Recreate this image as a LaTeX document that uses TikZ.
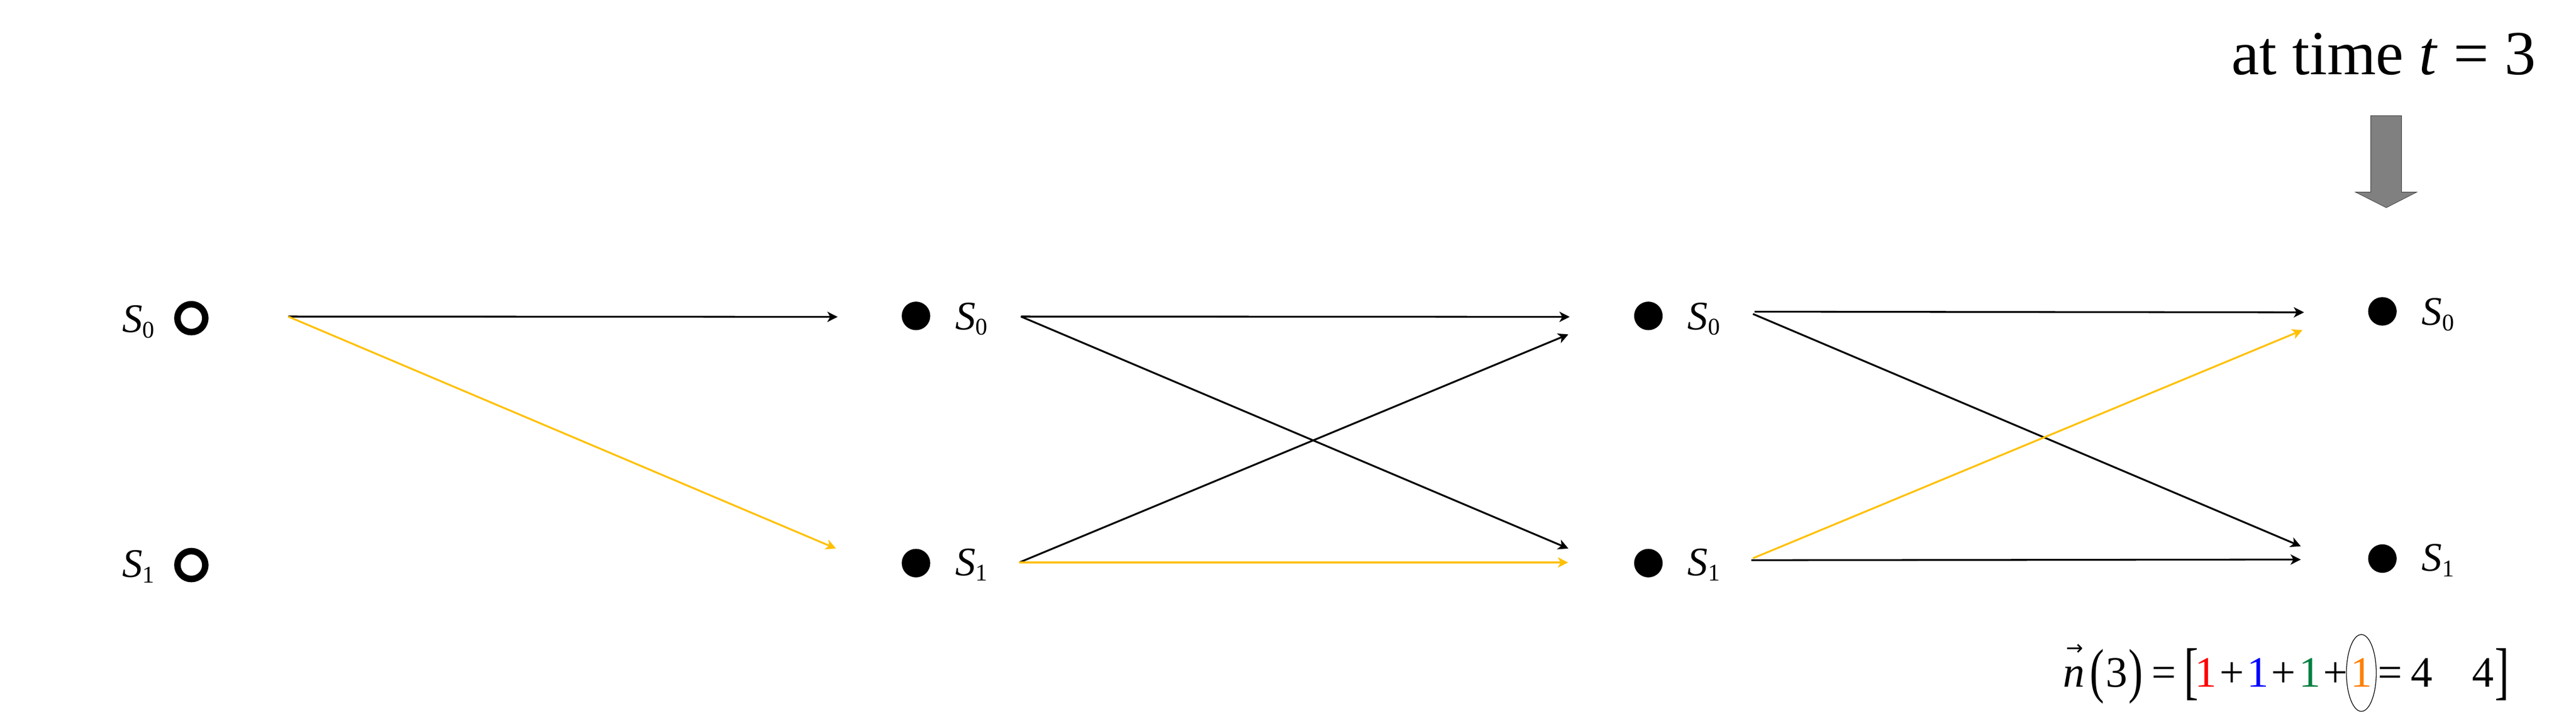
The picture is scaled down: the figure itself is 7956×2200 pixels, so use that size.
\documentclass[tikz,border=0pt]{standalone}
\usepackage{fontspec}
\setmainfont{Liberation Serif}
\newfontfamily\arrowfont{DejaVu Sans}
\usepackage{graphicx}
\usetikzlibrary{arrows.meta,shapes.geometric,calc}
\definecolor{gold}{HTML}{FFC000}
\definecolor{eqred}{HTML}{FF0000}
\definecolor{eqblue}{HTML}{0000FF}
\definecolor{eqgreen}{HTML}{00803F}
\definecolor{eqorange}{HTML}{FF8000}
\definecolor{blockgray}{HTML}{808080}
\definecolor{blockedge}{HTML}{404040}
\newcommand\lblfont{\fontsize{35.6pt}{40pt}\selectfont}
\newcommand\subfont{\fontsize{21pt}{24pt}\selectfont}
\newcommand\eqfont{\fontsize{38.1pt}{44pt}\selectfont}
\newcommand\titlefont{\fontsize{55pt}{62pt}\selectfont}
\newcommand\stlab[1]{\textit{S}\raisebox{-0.17cm}{\subfont #1}}
\newcommand\eqglyph[1]{\makebox[0pt]{#1}}
\begin{document}
\begin{tikzpicture}[x=0.01cm,y=-0.01cm,
  opendot/.style={circle,draw=black,line width=0.2cm,minimum size=0.86cm,inner sep=0pt},
  fulldot/.style={circle,fill=black,minimum size=0.88cm,inner sep=0pt},
  lblW/.style={anchor=base west,inner sep=0pt,font=\lblfont},
  lblE/.style={anchor=base east,inner sep=0pt,font=\lblfont},
  conn/.style={line width=1.6pt,-{Stealth[length=9pt,width=9pt,inset=2.5pt]}},
  eqstyle/.style={anchor=base west,inner sep=0pt,font=\eqfont}
]
\path[use as bounding box] (0,0) rectangle (7956,2200);

% states
\node[opendot] (c1a) at (591,982) {};
\node[opendot] (c1b) at (591,1744) {};
\node[fulldot] (d2a) at (2829,975) {};
\node[fulldot] (d2b) at (2829,1738) {};
\node[fulldot] (d3a) at (5091,975) {};
\node[fulldot] (d3b) at (5091,1738) {};
\node[fulldot] (d4a) at (7358,961) {};
\node[fulldot] (d4b) at (7358,1724) {};

% labels
\node[lblE] (l1a) at ($(c1a)+(-113,44)$) {\stlab{0}};
\node[lblE] (l1b) at ($(c1b)+(-113,38)$) {\stlab{1}};
\node[lblW] (l2a) at ($(d2a)+(121,42)$) {\stlab{0}};
\node[lblW] (l2b) at ($(d2b)+(121,38)$) {\stlab{1}};
\node[lblW] (l3a) at ($(d3a)+(121,42)$) {\stlab{0}};
\node[lblW] (l3b) at ($(d3b)+(121,38)$) {\stlab{1}};
\node[lblW] (l4a) at ($(d4a)+(121,42)$) {\stlab{0}};
\node[lblW] (l4b) at ($(d4b)+(121,38)$) {\stlab{1}};

% connector end points
\coordinate (o1) at (890,977);
\coordinate (i2a) at (2587,978);
\coordinate (i2b) at (2582,1693);
\coordinate (o2a) at (3153,977);
\coordinate (o2b) at (3148,1736);
\coordinate (i3aa) at (4848,978);
\coordinate (i3ab) at (4844,1032);
\coordinate (i3ba) at (4844,1693);
\coordinate (i3bb) at (4843,1736);
\coordinate (o3ah) at (5419,962);
\coordinate (o3ad) at (5414,969);
\coordinate (o3bd) at (5414,1723);
\coordinate (o3bh) at (5409,1729);
\coordinate (i4aa) at (7116,964);
\coordinate (i4ab) at (7111,1019);
\coordinate (i4ba) at (7106,1686);
\coordinate (i4bb) at (7106,1727);

% transitions
\draw[conn] (o1) -- (i2a);
\draw[conn,gold] (o1) -- (i2b);
\draw[conn] (o2a) -- (i3aa);
\draw[conn] (o2a) -- (i3ba);
\draw[conn] (o2b) -- (i3ab);
\draw[conn,gold] (o2b) -- (i3bb);
\draw[conn] (o3ah) -- (i4aa);
\draw[conn] (o3ad) -- (i4ba);
\draw[conn,gold] (o3bd) -- (i4ab);
\draw[conn] (o3bh) -- (i4bb);

% title and block arrow
\node[anchor=base,inner sep=0pt,font=\titlefont] (title) at (7362,230) {at time \textit{t} = 3};
\draw[fill=blockgray,draw=blockedge,line width=0.4pt]
  (7322,357) -- (7417,357) -- (7417,593) -- (7464,593) -- (7370,641)
  -- (7275,593) -- (7322,593) -- cycle;

% equation
\node[eqstyle] (eqn) at (6404,2120) {%
\eqglyph{\rlap{\hspace{0.1cm}\raisebox{0.99cm}{\arrowfont\fontsize{18pt}{20pt}\selectfont →}}\textit{n}}\hspace{0.72cm}%
\eqglyph{\raisebox{-0.13cm}{\scalebox{1}[1.39]{(}}}\hspace{0.60cm}%
\eqglyph{3}\hspace{0.59cm}%
\eqglyph{\raisebox{-0.13cm}{\scalebox{1}[1.39]{)}}}\hspace{0.87cm}%
\eqglyph{=}\hspace{0.86cm}%
\eqglyph{\raisebox{-0.16cm}{\scalebox{1}[1.45]{[}}}\hspace{0.43cm}%
\eqglyph{\textcolor{eqred}{1}}\hspace{0.81cm}%
\eqglyph{+}\hspace{0.81cm}%
\eqglyph{\textcolor{eqblue}{1}}\hspace{0.79cm}%
\eqglyph{+}\hspace{0.81cm}%
\eqglyph{\textcolor{eqgreen}{1}}\hspace{0.79cm}%
\eqglyph{+}\hspace{0.80cm}%
\eqglyph{\textcolor{eqorange}{1}}\hspace{0.88cm}%
\eqglyph{=}\hspace{0.98cm}%
\eqglyph{4}\hspace{1.90cm}%
\eqglyph{4}\hspace{0.58cm}%
\eqglyph{\raisebox{-0.16cm}{\scalebox{1}[1.45]{]}}}};
\node[draw=black,ellipse,line width=0.6pt,minimum width=0.92cm,minimum height=2.37cm,inner sep=0pt] (ring) at (7293,2077) {};
\end{tikzpicture}
\end{document}
